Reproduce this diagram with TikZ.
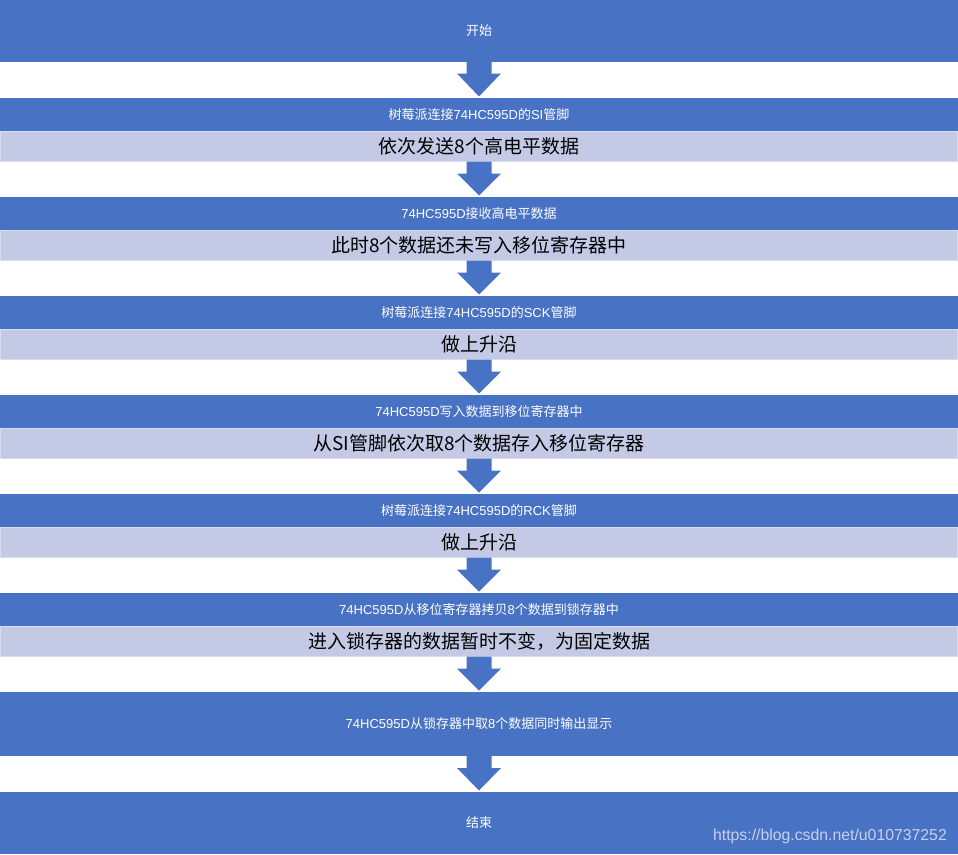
\documentclass[tikz,border=0pt]{standalone}
\usepackage{fontspec}
\newfontfamily\cjk{Noto Sans CJK SC}
\newfontfamily\wmfont{Liberation Sans}
\newcommand\latn[1]{{\wmfont #1}}
\usetikzlibrary{calc}
\definecolor{dblue}{HTML}{4872C4}
\definecolor{lblue}{HTML}{C4CAE5}
\definecolor{lborder}{HTML}{D8DCEF}
\definecolor{wmcol}{HTML}{C8D0EA}
\newcommand\flowarrow[2]{\fill[dblue] ($(#1.south)+(-12.5,0)$) -- ($(#1.south)+(12.5,0)$) -- ($(#1.south)+(12.5,12)$) -- ($(#1.south)+(22,12)$) -- ($(#2.north)+(0,-1.5)$) -- ($(#1.south)+(-22,12)$) -- ($(#1.south)+(-12.5,12)$) -- cycle;}
\begin{document}
\begin{tikzpicture}[x=1pt,y=-1pt,
  darkbox/.style={rectangle, fill=dblue, text=white, minimum width=958pt, inner sep=0pt, outer sep=0pt, font=\cjk\fontsize{13}{15}\selectfont},
  lightbox/.style={rectangle, fill=lblue, draw=lborder, line width=1pt, text=black, minimum width=957pt, minimum height=30.5pt, inner sep=0pt, outer sep=0pt, font=\cjk\fontsize{19}{22}\selectfont},
  thin/.style={minimum height=32.5pt},
  tall/.style={minimum height=64pt}]
\useasboundingbox (0,0) rectangle (958,854);
\node[darkbox, minimum height=61.5pt] (s) at (479,30.75) {开始};
\node[darkbox, thin] (d1) at (479,114.25) {树莓派连接\latn{74HC595D}的\latn{SI}管脚};
\node[lightbox] (l1) at (479,146.25) {依次发送8个高电平数据};
\node[darkbox, thin] (d2) at (479,213.25) {\latn{74HC595D}接收高电平数据};
\node[lightbox] (l2) at (479,245.25) {此时8个数据还未写入移位寄存器中};
\node[darkbox, thin] (d3) at (479,312.25) {树莓派连接\latn{74HC595D}的\latn{SCK}管脚};
\node[lightbox] (l3) at (479,344.25) {做上升沿};
\node[darkbox, thin] (d4) at (479,411.25) {\latn{74HC595D}写入数据到移位寄存器中};
\node[lightbox] (l4) at (479,443.25) {从SI管脚依次取8个数据存入移位寄存器};
\node[darkbox, thin] (d5) at (479,510.25) {树莓派连接\latn{74HC595D}的\latn{RCK}管脚};
\node[lightbox] (l5) at (479,542.25) {做上升沿};
\node[darkbox, thin] (d6) at (479,609.25) {\latn{74HC595D}从移位寄存器拷贝\latn{8}个数据到锁存器中};
\node[lightbox] (l6) at (479,641.25) {进入锁存器的数据暂时不变，为固定数据};
\node[darkbox, tall] (d7) at (479,724) {\latn{74HC595D}从锁存器中取\latn{8}个数据同时输出显示};
\node[darkbox, minimum height=62pt] (e) at (479,823) {结束};
\flowarrow{s}{d1}
\flowarrow{l1}{d2}
\flowarrow{l2}{d3}
\flowarrow{l3}{d4}
\flowarrow{l4}{d5}
\flowarrow{l5}{d6}
\flowarrow{l6}{d7}
\flowarrow{d7}{e}
\node[font=\wmfont\fontsize{15.8}{18}\selectfont, text=wmcol, anchor=base east, inner sep=0pt] (wm) at (947,840.5) {https://blog.csdn.net/u010737252};
\end{tikzpicture}
\end{document}
